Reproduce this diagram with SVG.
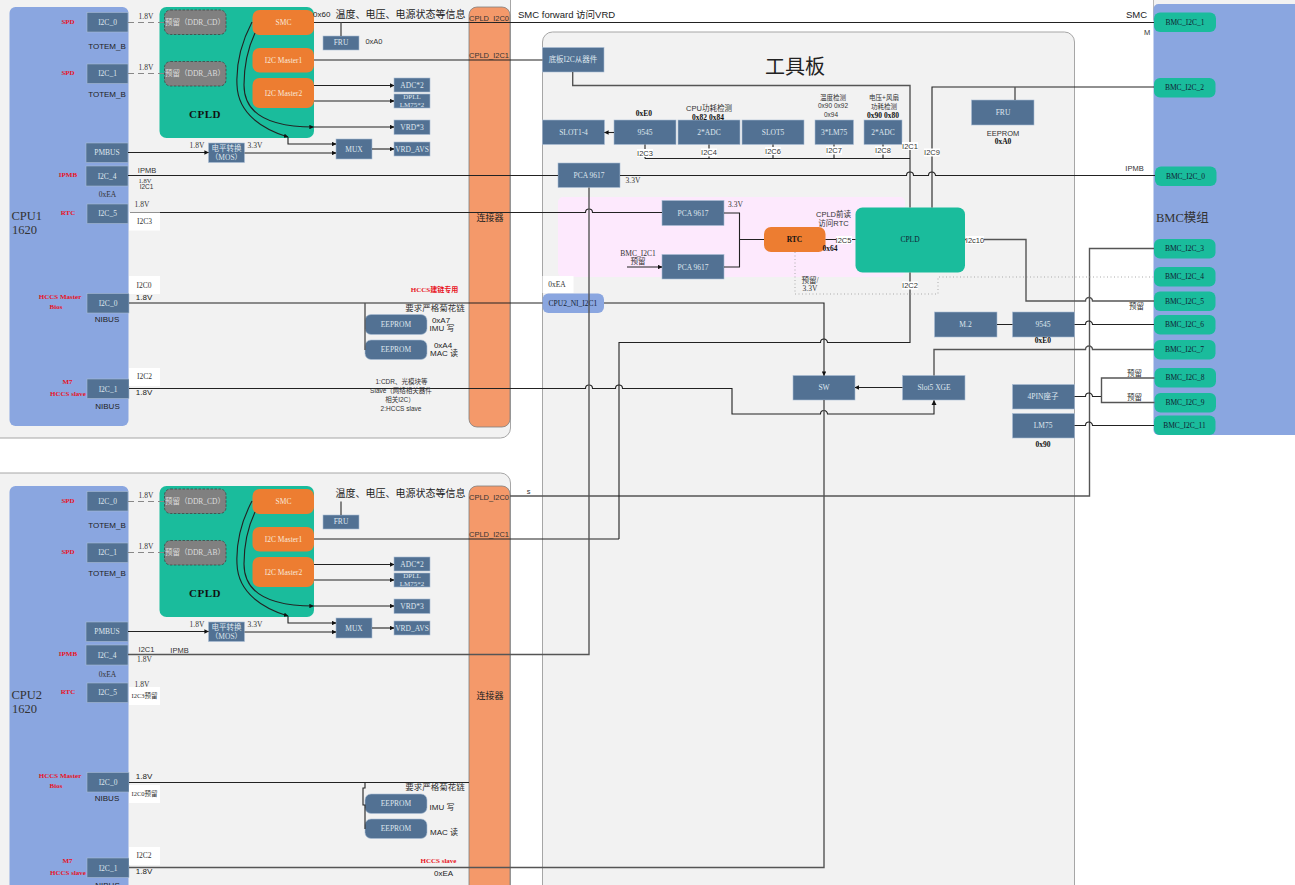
<svg xmlns="http://www.w3.org/2000/svg" width="1295" height="885" viewBox="0 0 1295 885">
<style>
text{font-family:"Liberation Sans","Noto Sans CJK SC",sans-serif;font-size:7.5px;fill:#333;text-anchor:middle;dominant-baseline:central}
.s{font-family:"Liberation Serif","Noto Sans CJK SC",serif}
.bt{font-family:"Liberation Serif","Noto Sans CJK SC",serif;font-size:7.5px;fill:#dfe6ee}
.dt{font-family:"Liberation Serif","Noto Sans CJK SC",serif;font-size:7.5px;fill:#123}
.r{font-family:"Liberation Serif","Noto Sans CJK SC",serif;font-size:7px;fill:#e81224;font-weight:bold}
.k{font-family:"Liberation Serif",serif;font-size:7.5px;fill:#111;font-weight:bold}
.n{font-family:"Liberation Sans","Noto Sans CJK SC",sans-serif;font-size:8px;fill:#222}
.m{font-family:"Liberation Sans","Noto Sans CJK SC",sans-serif;font-size:10px;fill:#222}
.l{text-anchor:start}
.b{fill:#527193;stroke:#a9bdd4;stroke-width:.6}
.e{fill:#527193;stroke:#a9bdd4;stroke-width:.6}
.o{fill:#ed7d31}
.g{fill:#1abc9c}
.y{fill:#808080;stroke:#444;stroke-width:.8;stroke-dasharray:2.5 1.5}
.u{fill:#8aa6e0}
.c{fill:#f4996a;stroke:#7f7f7f;stroke-width:.8}
.p{fill:#f2f2f2;stroke:#a6a6a6;stroke-width:1}
.w{fill:#fff}
.ln{fill:none;stroke:#222;stroke-width:1.1}
.th{fill:none;stroke:#555;stroke-width:1.4}
.d{fill:none;stroke:#888;stroke-width:1.2;stroke-dasharray:6 4}
.dot{fill:none;stroke:#aaa;stroke-width:1;stroke-dasharray:1 2.5}
.a{marker-end:url(#ar)}
</style>
<defs>
<marker id="ar" viewBox="0 0 6 6" refX="5.5" refY="3" markerWidth="4.5" markerHeight="4.5" markerUnits="userSpaceOnUse" orient="auto"><path d="M0 0L6 3L0 6Z" fill="#111"/></marker>
</defs>
<rect width="1295" height="885" fill="#fff"/>

<g id="panels">
<rect class="p" x="-20" y="-20" width="530.5" height="458" rx="10"/>
<rect class="p" x="-20" y="473" width="530.5" height="440" rx="10"/>
<rect class="p" x="542.5" y="32" width="532" height="880" rx="10"/>
<rect x="1153.5" y="-10" width="160" height="30" fill="#f2f2f2" stroke="#aaa" stroke-width=".8"/>
<rect id="pink-zone" x="558" y="197" width="347" height="80" rx="5" fill="#fde9fd"/>
</g>

<g id="bmc-module"><rect class="u" x="1153.5" y="4" width="160" height="431" rx="5"/><text class="s l" x="1156" y="218" style="font-size:12.5px">BMC模组</text></g>

<g id="cpu1"><rect class="u" x="9.5" y="7" width="119" height="419" rx="6"/><text class="s l" x="11.5" y="216" style="font-size:12.500px">CPU1</text><text class="s l" x="12" y="230" style="font-size:12.500px">1620</text></g>
<g id="conn1"><rect class="c" x="469" y="7" width="41" height="420" rx="8"/><text class="m" x="490" y="217.5" style="font-size:9px">连接器</text></g>
<g id="cpu2"><rect class="u" x="9.5" y="486" width="119" height="420" rx="6"/><text class="s l" x="11.5" y="695" style="font-size:12.500px">CPU2</text><text class="s l" x="12" y="709" style="font-size:12.500px">1620</text></g>
<g id="conn2"><rect class="c" x="469" y="486" width="41" height="420" rx="8"/><text class="m" x="490" y="696" style="font-size:9px">连接器</text></g>

<g id="side1">
<g id="c1-i2c0"><rect class="b" x="87" y="12.5" width="41" height="19.5"/><text class="bt" x="107.500" y="22.500">I2C_0</text></g>
<g id="c1-i2c1"><rect class="b" x="87" y="64" width="41" height="19.5"/><text class="bt" x="107.500" y="73.500">I2C_1</text></g>
<g id="c1-pmbus"><rect class="b" x="86" y="143" width="42" height="19.500"/><text class="bt" x="107" y="152.500">PMBUS</text></g>
<g id="c1-i2c4"><rect class="b" x="86" y="166" width="42" height="20"/><text class="bt" x="107" y="176">I2C_4</text></g>
<g id="c1-i2c5"><rect class="b" x="87" y="204" width="41" height="19.500"/><text class="bt" x="107.500" y="213.500">I2C_5</text></g>
<g id="c1-nibus0"><rect class="b" x="87" y="293.500" width="42" height="19.500"/><text class="bt" x="108" y="303.500">I2C_0</text></g>
<g id="c1-nibus1"><rect class="b" x="87" y="379" width="42" height="19.500"/><text class="bt" x="108" y="389">I2C_1</text></g>
<g id="c1-cpld"><rect class="g" x="159.500" y="7" width="154.500" height="131" rx="7"/><text class="k" x="205" y="114" style="font-size:11px;letter-spacing:.5px">CPLD</text></g>
<g id="c1-ddrcd"><rect class="y" x="164.500" y="10" width="61.500" height="24.500" rx="6"/><text class="bt" x="195" y="22" style="fill:#ddd">预留（DDR_CD）</text></g>
<g id="c1-ddrab"><rect class="y" x="164.500" y="61.500" width="61.500" height="24.500" rx="6"/><text class="bt" x="195" y="73" style="fill:#ddd">预留（DDR_AB）</text></g>
<g id="c1-smc"><rect class="o" x="252.500" y="10" width="61.500" height="25" rx="7"/><text class="bt" x="283.500" y="22" style="fill:#f8e8da">SMC</text></g>
<g id="c1-m1"><rect class="o" x="252.500" y="48" width="61.500" height="24.500" rx="7"/><text class="bt" x="283.500" y="60" style="fill:#f8e8da">I2C Master1</text></g>
<g id="c1-m2"><rect class="o" x="252.500" y="78" width="61.500" height="30" rx="7"/><text class="bt" x="283.500" y="93" style="fill:#f8e8da">I2C Master2</text></g>
<g id="c1-fru"><rect class="b" x="323" y="36" width="36" height="14"/><text class="bt" x="341" y="42.500">FRU</text></g>
<g id="c1-adc"><rect class="b" x="394" y="78" width="36" height="14"/><text class="bt" x="412" y="85.500">ADC*2</text></g>
<g id="c1-dpll"><rect class="b" x="394" y="94" width="36" height="14"/><text class="bt" x="412" y="97" style="font-size:7px">DPLL</text><text class="bt" x="412" y="104.500" style="font-size:7px">LM75*2</text></g>
<g id="c1-vrd"><rect class="b" x="394" y="120" width="36" height="14.500"/><text class="bt" x="412" y="127.500">VRD*3</text></g>
<g id="c1-mux"><rect class="b" x="336" y="139" width="36" height="20"/><text class="bt" x="354" y="149">MUX</text></g>
<g id="c1-avs"><rect class="b" x="394" y="142" width="36" height="14"/><text class="bt" x="412" y="149">VRD_AVS</text></g>
<g id="c1-mos"><rect class="b" x="208.500" y="143" width="36" height="19.500"/><text class="bt" x="226.500" y="148">电平转换</text><text class="bt" x="226.500" y="157">（MOS）</text></g>
<g id="c1-ee1"><rect class="e" x="365" y="314.500" width="62" height="20" rx="6"/><text class="bt" x="396" y="324.500">EEPROM</text></g>
<g id="c1-ee2"><rect class="e" x="365" y="340" width="62" height="19.500" rx="6"/><text class="bt" x="396" y="349.500">EEPROM</text></g>
</g>

<g id="side2" transform="translate(0,479)">
<g id="c2-i2c0"><rect class="b" x="87" y="12.5" width="41" height="19.5"/><text class="bt" x="107.500" y="22.500">I2C_0</text></g>
<g id="c2-i2c1"><rect class="b" x="87" y="64" width="41" height="19.5"/><text class="bt" x="107.500" y="73.500">I2C_1</text></g>
<g id="c2-pmbus"><rect class="b" x="86" y="143" width="42" height="19.500"/><text class="bt" x="107" y="152.500">PMBUS</text></g>
<g id="c2-i2c4"><rect class="b" x="86" y="166" width="42" height="20"/><text class="bt" x="107" y="176">I2C_4</text></g>
<g id="c2-i2c5"><rect class="b" x="87" y="204" width="41" height="19.500"/><text class="bt" x="107.500" y="213.500">I2C_5</text></g>
<g id="c2-nibus0"><rect class="b" x="87" y="293.500" width="42" height="19.500"/><text class="bt" x="108" y="303.500">I2C_0</text></g>
<g id="c2-nibus1"><rect class="b" x="87" y="379" width="42" height="19.500"/><text class="bt" x="108" y="389">I2C_1</text></g>
<g id="c2-cpld"><rect class="g" x="159.500" y="7" width="154.500" height="131" rx="7"/><text class="k" x="205" y="114" style="font-size:11px;letter-spacing:.5px">CPLD</text></g>
<g id="c2-ddrcd"><rect class="y" x="164.500" y="10" width="61.500" height="24.500" rx="6"/><text class="bt" x="195" y="22" style="fill:#ddd">预留（DDR_CD）</text></g>
<g id="c2-ddrab"><rect class="y" x="164.500" y="61.500" width="61.500" height="24.500" rx="6"/><text class="bt" x="195" y="73" style="fill:#ddd">预留（DDR_AB）</text></g>
<g id="c2-smc"><rect class="o" x="252.500" y="10" width="61.500" height="25" rx="7"/><text class="bt" x="283.500" y="22" style="fill:#f8e8da">SMC</text></g>
<g id="c2-m1"><rect class="o" x="252.500" y="48" width="61.500" height="24.500" rx="7"/><text class="bt" x="283.500" y="60" style="fill:#f8e8da">I2C Master1</text></g>
<g id="c2-m2"><rect class="o" x="252.500" y="78" width="61.500" height="30" rx="7"/><text class="bt" x="283.500" y="93" style="fill:#f8e8da">I2C Master2</text></g>
<g id="c2-fru"><rect class="b" x="323" y="36" width="36" height="14"/><text class="bt" x="341" y="42.500">FRU</text></g>
<g id="c2-adc"><rect class="b" x="394" y="78" width="36" height="14"/><text class="bt" x="412" y="85.500">ADC*2</text></g>
<g id="c2-dpll"><rect class="b" x="394" y="94" width="36" height="14"/><text class="bt" x="412" y="97" style="font-size:7px">DPLL</text><text class="bt" x="412" y="104.500" style="font-size:7px">LM75*2</text></g>
<g id="c2-vrd"><rect class="b" x="394" y="120" width="36" height="14.500"/><text class="bt" x="412" y="127.500">VRD*3</text></g>
<g id="c2-mux"><rect class="b" x="336" y="139" width="36" height="20"/><text class="bt" x="354" y="149">MUX</text></g>
<g id="c2-avs"><rect class="b" x="394" y="142" width="36" height="14"/><text class="bt" x="412" y="149">VRD_AVS</text></g>
<g id="c2-mos"><rect class="b" x="208.500" y="143" width="36" height="19.500"/><text class="bt" x="226.500" y="148">电平转换</text><text class="bt" x="226.500" y="157">（MOS）</text></g>
<g id="c2-ee1"><rect class="e" x="365" y="315" width="62" height="19.500" rx="6"/><text class="bt" x="396" y="324.500">EEPROM</text></g>
<g id="c2-ee2"><rect class="e" x="365" y="340" width="62" height="19.500" rx="6"/><text class="bt" x="396" y="349.500">EEPROM</text></g>
</g>

<g id="board">
<g id="t-slave"><rect class="b" x="542.500" y="47.500" width="61.500" height="24.500"/><text class="bt" x="573" y="59">底板I2C从器件</text></g>
<g id="t-slot14"><rect class="b" x="542.500" y="120" width="62" height="24.500"/><text class="bt" x="573.500" y="132.500">SLOT1-4</text></g>
<g id="t-9545a"><rect class="b" x="614" y="120" width="62" height="24.500"/><text class="bt" x="645" y="132.500">9545</text></g>
<g id="t-adc1"><rect class="b" x="678" y="120" width="62" height="24.500"/><text class="bt" x="709" y="132.500">2*ADC</text></g>
<g id="t-slot5"><rect class="b" x="742" y="120" width="62" height="24.500"/><text class="bt" x="773" y="132.500">SLOT5</text></g>
<g id="t-lm75x3"><rect class="b" x="815" y="120" width="38.500" height="24.500"/><text class="bt" x="834" y="132.500">3*LM75</text></g>
<g id="t-adc2"><rect class="b" x="864" y="120" width="38" height="24.500"/><text class="bt" x="883" y="132.500">2*ADC</text></g>
<g id="t-pca1"><rect class="b" x="558" y="163" width="62" height="24.500"/><text class="bt" x="589" y="175.500">PCA 9617</text></g>
<g id="t-pca2"><rect class="b" x="662" y="200.500" width="62" height="25"/><text class="bt" x="693" y="213">PCA 9617</text></g>
<g id="t-pca3"><rect class="b" x="662" y="254.500" width="62" height="24.500"/><text class="bt" x="693" y="267">PCA 9617</text></g>
<g id="t-rtc"><rect class="o" x="764" y="227" width="61.500" height="25" rx="7"/><text class="k" x="794.500" y="239.500">RTC</text></g>
<g id="t-cpld"><rect class="g" x="855.500" y="207.500" width="109.500" height="65" rx="7"/><text class="dt" x="910" y="239.500">CPLD</text></g>
<g id="t-cpu2ni"><rect class="u" x="542.500" y="293.500" width="61.500" height="19.500" rx="6"/><text class="dt" x="573" y="303">CPU2_NI_I2C1</text></g>
<g id="t-fru"><rect class="b" x="971.500" y="100" width="62.500" height="25"/><text class="bt" x="1003" y="112.500">FRU</text></g>
<g id="t-m2"><rect class="b" x="934.500" y="312" width="62.500" height="25"/><text class="bt" x="965.500" y="324.500">M.2</text></g>
<g id="t-9545b"><rect class="b" x="1012.500" y="312" width="62" height="25"/><text class="bt" x="1043" y="324.500">9545</text></g>
<g id="t-sw"><rect class="b" x="793" y="375.500" width="62" height="24.500"/><text class="bt" x="824" y="387.500">SW</text></g>
<g id="t-slot5xge"><rect class="b" x="902.500" y="375.500" width="62.500" height="24.500"/><text class="bt" x="934" y="387.500">Slot5 XGE</text></g>
<g id="t-4pin"><rect class="b" x="1012.500" y="384.500" width="62" height="24.500"/><text class="bt" x="1043" y="396.500">4PIN座子</text></g>
<g id="t-lm75"><rect class="b" x="1012.500" y="413.500" width="62" height="24.500"/><text class="bt" x="1043" y="425.500">LM75</text></g>
</g>

<g id="bmc-ports">
<g id="bmc1"><rect class="g" x="1154" y="12.500" width="62" height="19.500" rx="6"/><text class="dt" x="1185" y="22">BMC_I2C_1</text></g>
<g id="bmc2"><rect class="g" x="1154" y="78" width="61.500" height="19.500" rx="6"/><text class="dt" x="1184.500" y="87.500">BMC_I2C_2</text></g>
<g id="bmc0"><rect class="g" x="1155" y="166.500" width="61.500" height="19.500" rx="6"/><text class="dt" x="1185.500" y="176">BMC_I2C_0</text></g>
<g id="bmc3"><rect class="g" x="1154" y="239" width="61.500" height="19.500" rx="6"/><text class="dt" x="1184.500" y="248.500">BMC_I2C_3</text></g>
<g id="bmc4"><rect class="g" x="1154" y="267" width="61.500" height="19.500" rx="6"/><text class="dt" x="1184.500" y="276.500">BMC_I2C_4</text></g>
<g id="bmc5"><rect class="g" x="1154" y="291.500" width="61.500" height="19.500" rx="6"/><text class="dt" x="1184.500" y="301">BMC_I2C_5</text></g>
<g id="bmc6"><rect class="g" x="1154" y="315" width="61.500" height="19.500" rx="6"/><text class="dt" x="1184.500" y="324.500">BMC_I2C_6</text></g>
<g id="bmc7"><rect class="g" x="1154" y="340" width="61.500" height="19.500" rx="6"/><text class="dt" x="1184.500" y="349.500">BMC_I2C_7</text></g>
<g id="bmc8"><rect class="g" x="1154.500" y="368" width="61.500" height="19.500" rx="6"/><text class="dt" x="1185" y="377.500">BMC_I2C_8</text></g>
<g id="bmc9"><rect class="g" x="1154.500" y="393" width="61.500" height="19.500" rx="6"/><text class="dt" x="1185" y="402.500">BMC_I2C_9</text></g>
<g id="bmc11"><rect class="g" x="1154" y="415.500" width="61.500" height="19.500" rx="6"/><text class="dt" x="1184.500" y="425">BMC_I2C_11</text></g>
</g>

<g id="connectors">
<g id="conn-cpu1">
<path class="d" d="M128 22.500H164"/><path class="d" d="M128 73.500H164"/>
<path class="ln" d="M314 22.500H1154"/>
<path class="th" d="M341 22.500V36"/>
<path class="ln" d="M314 60H542.500"/>
<path class="ln a" d="M314 85.500H394"/><path class="ln a" d="M314 101H394"/>
<path class="ln a" d="M252 22C240 45 236 65 237 85C238 115 265 130 288 137"/>
<path class="ln a" d="M255 33C247 50 244 65 244 85C244 110 262 127 313.500 127"/>
<path class="ln a" d="M313.500 127H394"/>
<path class="ln a" d="M288 137V144H336"/>
<path class="ln a" d="M128 152.500H208.500"/>
<path class="ln a" d="M244.500 153H336"/>
<path class="ln a" d="M372 149H394"/>
<path class="ln" d="M128 175.500H558"/>
<path class="ln" d="M130 212.500H585.500a3.500 3.500 0 0 1 7 0H662"/>
<path class="ln" d="M129 303H542.500"/>
<path class="th" d="M365 303V350"/>
<path class="ln" d="M129 388.500H585.500a3.500 3.500 0 0 1 7 0H615.500a3.500 3.500 0 0 1 7 0H732V414H820.500a3.500 3.500 0 0 1 7 0H934V400.500"/>
<path d="M934 400L931.500 405H936.500Z" fill="#111"/>
</g>
<g id="conn-cpu2">
<path class="d" d="M128 501.500H164"/><path class="d" d="M128 552.500H164"/>
<path class="th" d="M341 501.500V515"/>
<path class="ln" d="M314 539H619"/>
<path class="ln a" d="M314 564.500H394"/><path class="ln a" d="M314 580H394"/>
<path class="ln a" d="M252 501C240 524 236 544 237 564C238 594 265 609 288 616"/>
<path class="ln a" d="M255 512C247 529 244 544 244 564C244 589 262 606 313.500 606"/>
<path class="ln a" d="M313.500 606H394"/>
<path class="ln a" d="M288 616V623H336"/>
<path class="ln a" d="M128 631.500H208.500"/>
<path class="ln a" d="M244.500 632H336"/>
<path class="ln a" d="M372 628H394"/>
<path class="th" d="M128 654.500H589V187.500"/>
<path class="ln" d="M129 782.500H469"/>
<path class="ln" d="M365 782.500V788H363V805H365V829"/>
<path class="th" d="M129 867.500H824V400"/>
<path class="th" d="M510 496H1089.500V248.500H1154"/>
</g>
<g id="conn-board">
<path class="th" d="M572.700 72V85.500H910V207.500"/>
<path class="ln" d="M932 207.500V87H1154"/>
<path class="th" d="M1015 87V100"/>
<path class="ln" d="M645 158.500H910"/>
<path class="ln" d="M645 144.500V158.500M709 144.500V158.500M773 144.500V158.500M834 144.500V158.500M883 144.500V158.500"/>
<path class="ln a" d="M614 132.500H604.500"/>
<path class="ln" d="M620 175.500H906.500a3.500 3.500 0 0 1 7 0H928.500a3.500 3.500 0 0 1 7 0H1155"/>
<path class="ln" d="M724 213H739.500V267H724M739.500 239.500H764M825.500 239.500H855.500"/>
<path class="ln a" d="M627 267H662"/>
<path class="ln a" d="M604 303H824V375.500"/>
<path class="ln" d="M619 539V342.500H820.500a3.500 3.500 0 0 1 7 0H910V272.500"/>
<path class="ln a" d="M902.500 387.500H855"/>
<path class="dot" d="M795 252V294H938V277H1154"/>
<path class="th" d="M965 239.500H1026V301H1085.500a3.500 3.500 0 0 1 7 0H1154"/>
<path class="ln" d="M997 324.500H1012.500M1074.500 324.500H1085.500a3.500 3.500 0 0 1 7 0H1154"/>
<path class="th" d="M934 375.500V349.500H1085.500a3.500 3.500 0 0 1 7 0H1154"/>
<path class="ln" d="M1074.500 396.500H1085.500a3.500 3.500 0 0 1 7 0H1101.500"/>
<path class="th" d="M1154.500 378H1101.500V402.500H1154.500"/>
<path class="ln" d="M1074.500 425.500H1085.500a3.500 3.500 0 0 1 7 0H1154"/>
</g>
</g>

<g id="labels1">
<text class="r" x="68" y="22">SPD</text><text class="r" x="68" y="73">SPD</text><text class="r" x="68" y="175">IPMB</text><text class="r" x="68" y="213">RTC</text>
<text class="r" x="60" y="297">HCCS Master</text><text class="r" x="56" y="306.500">Bios</text>
<text class="r" x="67.500" y="382">M7</text><text class="r" x="68" y="393.500">HCCS slave</text>
<text class="n" x="107" y="46">TOTEM_B</text><text class="n" x="107" y="94.500">TOTEM_B</text>
<text class="s" x="107.500" y="194.500">0xEA</text>
<text class="n" x="107" y="319.500">NIBUS</text><text class="n" x="107.500" y="406.500">NIBUS</text>
<text class="s" x="146" y="16">1.8V</text><text class="s" x="146" y="67">1.8V</text>
<text class="s" x="197" y="145.500">1.8V</text><text class="s" x="255" y="145.500">3.3V</text>
<text class="n l" x="313" y="14">0x60</text>
<text class="m l" x="335.500" y="14.500">温度、电压、电源状态等信息</text>
<text x="374" y="41.500">0xA0</text>
<text x="489" y="18">CPLD_I2C0</text><text x="489" y="55">CPLD_I2C1</text>
<text x="147" y="170">IPMB</text><text class="s" x="145" y="180" style="font-size:6.500px">1.8V</text><text x="146.500" y="186.500" style="font-size:6.500px">I2C1</text>
<text class="s" x="142" y="204.500">1.8V</text>
<rect class="w" x="129" y="212.500" width="31" height="18"/><text class="s" x="144.500" y="221">I2C3</text>
<rect class="w" x="129" y="276" width="31" height="18"/><text class="s" x="144" y="285">I2C0</text>
<text class="n" x="144" y="297.500">1.8V</text>
<rect class="w" x="129" y="368" width="31" height="18"/><text class="s" x="144.500" y="376.500">I2C2</text>
<text class="n" x="144" y="392">1.8V</text>
<text class="r" x="434.500" y="290">HCCS建链专用</text>
<text class="s" x="435" y="308" style="font-size:8.500px">要求严格菊花链</text>
<text class="n" x="441" y="320.500">0xA7</text><text class="n" x="442" y="328.500">IMU 写</text>
<text class="n" x="443" y="345">0xA4</text><text class="n" x="444" y="353.500">MAC 读</text>
<text x="401.500" y="381.500" style="font-size:6.500px">1:CDR、光模块等</text>
<text x="401" y="390.500" style="font-size:6.500px">Slave（网络相关器件</text>
<text x="400" y="399.500" style="font-size:6.500px">相关I2C）</text>
<text x="401" y="408.500" style="font-size:6.500px">2:HCCS slave</text>
</g>

<g id="labels2">
<text class="r" x="68" y="501">SPD</text><text class="r" x="68" y="552">SPD</text><text class="r" x="68" y="654">IPMB</text><text class="r" x="68" y="692">RTC</text>
<text class="r" x="60" y="776">HCCS Master</text><text class="r" x="56" y="785.500">Bios</text>
<text class="r" x="67.500" y="861">M7</text><text class="r" x="68" y="872.500">HCCS slave</text>
<text class="n" x="107" y="525">TOTEM_B</text><text class="n" x="107" y="573.500">TOTEM_B</text>
<text class="s" x="107.500" y="674">0xEA</text>
<text class="n" x="107" y="798.500">NIBUS</text><text class="n" x="107.500" y="885.500">NIBUS</text>
<text class="s" x="146" y="495">1.8V</text><text class="s" x="146" y="546">1.8V</text>
<text class="s" x="197" y="624.500">1.8V</text><text class="s" x="255" y="624.500">3.3V</text>
<text class="m l" x="335.500" y="493.500">温度、电压、电源状态等信息</text>
<text x="489" y="497">CPLD_I2C0</text><text x="489" y="534">CPLD_I2C1</text>
<text x="146.500" y="649.500">I2C1</text><text x="179.500" y="650.500">IPMB</text><text class="s" x="144.500" y="659.500">1.8V</text>
<text class="s" x="142" y="684">1.8V</text>
<rect class="w" x="129" y="687" width="31" height="18"/><text class="s" x="144.500" y="695" style="font-size:6.500px">I2C3预留</text>
<text class="n" x="144" y="776.500">1.8V</text>
<rect class="w" x="129" y="785" width="31" height="18"/><text class="s" x="144.500" y="793.500" style="font-size:6.500px">I2C0预留</text>
<rect class="w" x="129" y="847" width="31" height="18"/><text class="s" x="144" y="855.500">I2C2</text>
<text class="n" x="144" y="871">1.8V</text>
<text class="s" x="435" y="787" style="font-size:8.500px">要求严格菊花链</text>
<text class="n" x="442" y="807.500">IMU 写</text><text class="n" x="444" y="832.500">MAC 读</text>
<text class="r" x="438.500" y="861">HCCS slave</text>
<text class="n" x="443.500" y="873.500">0xEA</text>
<text x="528.500" y="491.500">s</text>
</g>

<g id="labels-board">
<text class="m l" x="518" y="14.500" style="font-size:9.500px">SMC forward 访问VRD</text>
<text class="m" x="1136.500" y="14.500" style="font-size:9.500px">SMC</text>
<text x="1147" y="32">M</text>
<text class="m" x="795" y="67" style="font-size:20px">工具板</text>
<text class="k" x="644" y="113">0xE0</text>
<text class="s" x="709" y="108" style="font-family:'Liberation Sans','Noto Sans CJK SC',sans-serif">CPU功耗检测</text>
<text class="k" x="708" y="117">0x82 0x84</text>
<text x="833" y="97" style="font-size:6.500px">温度检测</text><text x="833" y="105.500" style="font-size:6.500px">0x90 0x92</text><text x="831" y="114" style="font-size:6.500px">0x94</text>
<text x="884" y="97" style="font-size:6.500px">电压+风扇</text><text x="884" y="106" style="font-size:6.500px">功耗检测</text>
<text class="k" x="883" y="115.500">0x90 0x80</text>
<rect class="w" x="637" y="149" width="16" height="8"/><text x="645" y="153">I2C3</text>
<rect class="w" x="701" y="148.500" width="16" height="8"/><text x="709" y="152.500">I2C4</text>
<rect class="w" x="765" y="147" width="16" height="8"/><text x="773" y="151">I2C6</text>
<rect class="w" x="826" y="146.500" width="16" height="8"/><text x="834" y="150.500">I2C7</text>
<rect class="w" x="875" y="146.500" width="16" height="8"/><text x="883" y="150.500">I2C8</text>
<rect class="w" x="902" y="142" width="16" height="8"/><text x="910" y="146">I2C1</text>
<rect class="w" x="924" y="148.500" width="16" height="8"/><text x="932" y="152.500">I2C9</text>
<text class="s" x="633" y="180">3.3V</text><text class="s" x="735.500" y="204.500">3.3V</text>
<text x="833.500" y="214">CPLD前读</text><text x="833.500" y="223.500">访问RTC</text>
<rect class="w" x="836" y="236" width="16" height="8"/><text x="843.500" y="240">I2C5</text>
<text class="k" x="830" y="248.500">0x64</text>
<rect class="w" x="966" y="236" width="18" height="8"/><text x="975" y="240">I2c10</text>
<rect class="w" x="902" y="281.500" width="16" height="8"/><text x="910" y="285.500">I2C2</text>
<text class="s" x="810" y="280">预留/</text><text class="s" x="810" y="288.500">3.3V</text>
<text class="s" x="638" y="253">BMC_I2C1</text><text class="s" x="638" y="261">预留</text>
<rect class="w" x="542.500" y="276" width="31" height="17"/><text class="s" x="557" y="284.500">0xEA</text>
<text x="1003" y="133.500">EEPROM</text><text class="k" x="1003" y="141.500">0xA0</text>
<text x="1134.500" y="168">IPMB</text>
<text class="s" x="1136.500" y="306">预留</text><text class="s" x="1134.500" y="373">预留</text><text class="s" x="1134.500" y="397">预留</text>
<text class="k" x="1043" y="340">0xE0</text><text class="k" x="1043" y="444">0x90</text>
</g>
</svg>
